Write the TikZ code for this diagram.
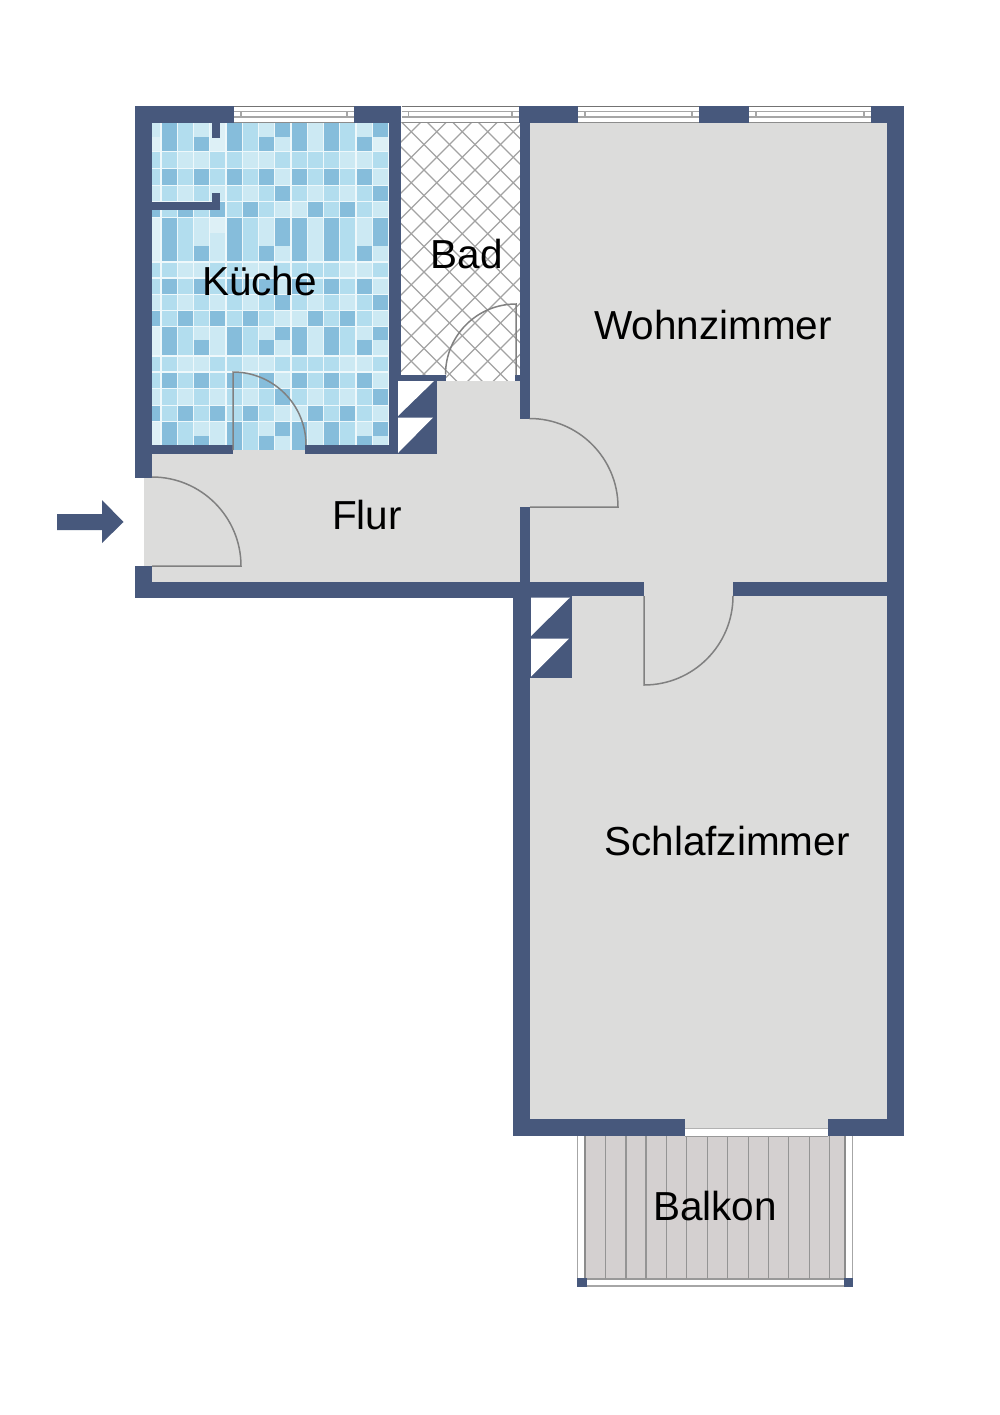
\documentclass[tikz,border=0pt]{standalone}
\usepackage{fontspec}
\setmainfont{Liberation Sans}
\definecolor{wallblue}{HTML}{47587C}
\definecolor{floorgrey}{HTML}{DCDCDB}
\definecolor{deckgrey}{HTML}{D4D0D0}
\definecolor{tilegrout}{HTML}{EEF8FB}
\definecolor{tile0}{HTML}{DDF0F6}
\definecolor{tile1}{HTML}{CCE9F3}
\definecolor{tile2}{HTML}{B2DDEE}
\definecolor{tile3}{HTML}{86BDDB}
\tikzset{
  wall/.style={fill=wallblue, draw=none},
  floorpart/.style={fill=floorgrey, draw=none},
  doorline/.style={draw=black!50, line width=1.5pt},
  roomlabel/.style={font=\fontsize{40.5}{40.5}\selectfont, text=black, inner sep=0pt}
}
\def\windowpane(#1:#2){
  \fill[white] (#1, 106) rectangle (#2, 123);
  \draw[black!55, line width=1.4pt] (#1, 106.7) -- (#2, 106.7);
  \draw[black!45, line width=1.4pt] (#1, 122.3) -- (#2, 122.3);
  \draw[black!35, line width=1.2pt] (#1, 111.5) -- (#2, 111.5);
  \draw[black!35, line width=1.2pt] (#1, 117) -- (#2, 117);
  \draw[black!35, line width=1.2pt] (#1+7, 111.5) -- (#1+7, 117);
  \draw[black!35, line width=1.2pt] (#2-7, 111.5) -- (#2-7, 117);
}
\begin{document}
\begin{tikzpicture}[x=1pt, y=-1pt]
	%%%%% START %%%%%
	\useasboundingbox (0, 0) rectangle (1000, 1415);
	\fill[white] (0, 0) rectangle (1000, 1415);

	% floors
	\fill[floorpart] (144, 454) rectangle (520, 582);
	\fill[floorpart] (437, 380) rectangle (530, 560);
	\fill[floorpart] (530, 123) rectangle (887, 1119);
	\fill[floorpart] (685, 1119) rectangle (828, 1128);
	\fill[floorpart] (233, 449) rectangle (305, 454);

	% kitchen tiles
	\fill[tilegrout] (152, 123) rectangle (389, 449.5);
	\begin{scope}
		\clip (152, 123) rectangle (389, 449.5);
		\foreach \ya/\yb/\rowtiles in {
			123/137/{1,3,2,1,0,3,2,1,3,3,1,3,2,1,3},
			137/151.5/{0,3,2,3,0,3,2,3,1,3,1,3,2,3,0},
			152.5/168/{2,2,1,1,2,2,1,1,2,2,2,2,1,1,2},
			169/185/{2,3,2,3,2,3,2,3,1,3,2,3,2,3,1},
			186/201/{1,2,1,2,1,2,1,2,3,2,1,2,1,2,3},
			202/217/{3,2,3,2,3,2,3,2,1,1,3,2,3,2,1},
			218/233/{0,3,2,1,0,3,2,1,3,3,1,3,2,1,3},
			233/246/{0,3,2,1,1,3,2,1,3,3,1,3,2,1,3},
			246/261/{0,3,2,3,1,3,2,3,1,3,1,3,2,3,1},
			262.5/277/{2,2,1,1,2,2,1,1,2,2,2,2,1,1,2},
			278.5/293.5/{2,3,2,3,2,3,2,3,1,3,2,3,2,3,1},
			294.5/309.5/{1,2,1,2,1,2,1,2,3,2,1,2,1,2,3},
			310.5/326/{3,2,3,2,3,2,3,2,1,1,3,2,3,2,1},
			327/340/{0,3,2,1,1,3,2,1,3,3,1,3,2,1,3},
			340/355/{0,3,2,3,1,3,2,3,1,3,1,3,2,3,1},
			356.5/371/{2,2,1,1,2,2,1,1,2,2,2,2,1,1,2},
			372.5/387.5/{2,3,2,3,2,3,2,3,1,3,2,3,2,3,1},
			388.5/404.5/{1,2,1,2,1,2,1,2,3,2,1,2,1,2,3},
			405.5/420.5/{3,2,3,2,3,2,3,2,1,1,3,2,3,2,1},
			421.5/436/{0,3,2,1,1,3,2,1,3,3,1,3,2,1,3},
			436/450/{0,3,2,3,1,3,2,3,1,3,1,3,2,3,1}}
		{
			\foreach \t [count=\c from 0] in \rowtiles
				\fill[tile\t] (145.45+16.25*\c, \ya) rectangle (160.45+16.25*\c, \yb);
		}
	\end{scope}

	% bath tiles
	\fill[white] (401, 123) rectangle (520, 380.5);
	\begin{scope}
		\clip (401, 123) rectangle (520, 380.5);
		\foreach \k in {-15,...,15} {
			\draw[black!36, line width=1.1pt] (300, 294+25.5*\k) -- (700, -106+25.5*\k);
			\draw[black!36, line width=1.1pt] (300, 46-25.5*\k) -- (700, 446-25.5*\k);
		}
	\end{scope}

	% balcony
	\fill[white] (577, 1136) rectangle (853, 1287);
	\draw[black!35, line width=1.2pt] (577.6, 1136) -- (577.6, 1280);
	\draw[black!35, line width=1.2pt] (852.8, 1136) -- (852.8, 1280);
	\fill[deckgrey] (585, 1136) rectangle (845, 1279);
	\draw[black!45, line width=1.3pt] (585, 1136) -- (585, 1279);
	\draw[black!45, line width=1.3pt] (845, 1136) -- (845, 1279);
	\draw[black!40, line width=1.5pt] (585, 1279) -- (845, 1279);
	\foreach \xp in {605.7,626,646,666.7,686.7,707.3,727.7,748.3,768.3,788.7,809.3,829.7}
		\draw[black!42, line width=1.2pt] (\xp, 1136) -- (\xp, 1279);
	\draw[black!35, line width=1.8pt] (587, 1286.2) -- (844, 1286.2);
	\fill[wall] (577, 1278) rectangle (587, 1287);
	\fill[wall] (844, 1278) rectangle (853, 1287);

	% balcony door
	\fill[white] (685, 1128) rectangle (828, 1136);
	\draw[black!30, line width=1pt] (685, 1128.5) -- (828, 1128.5);
	\draw[black!40, line width=1pt] (685, 1136) -- (828, 1136);

	% outer walls
	\fill[wall] (135, 106) rectangle (234, 123);
	\fill[wall] (354, 106) rectangle (401, 123);
	\fill[wall] (519, 106) rectangle (578, 123);
	\fill[wall] (699, 106) rectangle (749, 123);
	\fill[wall] (871, 106) rectangle (904, 123);
	\fill[wall] (135, 106) rectangle (152, 478);
	\fill[wall] (135, 566) rectangle (152, 598);
	\fill[wall] (135, 582) rectangle (530, 598);
	\fill[wall] (887, 106) rectangle (904, 1136);
	\fill[wall] (513, 582) rectangle (530, 1136);
	\fill[wall] (513, 1119) rectangle (685, 1136);
	\fill[wall] (828, 1119) rectangle (904, 1136);

	% inner walls
	\fill[wall] (520, 582) rectangle (644, 596);
	\fill[wall] (733, 582) rectangle (887, 596);
	\fill[wall] (389, 123) rectangle (401, 454);
	\fill[wall] (152, 445) rectangle (233, 454);
	\fill[wall] (305, 445) rectangle (398, 454);
	\fill[wall] (212, 123) rectangle (220, 138);
	\fill[wall] (212, 193) rectangle (220, 210);
	\fill[wall] (152, 202) rectangle (220, 210);
	\fill[wall] (398, 375) rectangle (446, 381);
	\fill[wall] (515, 375) rectangle (520, 381);
	\fill[wall] (520, 123) rectangle (530, 419);
	\fill[wall] (520, 507) rectangle (530, 590);

	% shafts
	\fill[wall] (398, 379) rectangle (437, 454);
	\fill[white] (398, 381) -- (434, 381) -- (398, 416) -- cycle;
	\fill[white] (398, 417.5) -- (433, 417.5) -- (398, 453) -- cycle;
	\fill[wall] (530, 596) rectangle (572, 678);
	\fill[white] (531, 597.5) -- (570, 597.5) -- (531, 636) -- cycle;
	\fill[white] (531, 638.5) -- (569, 638.5) -- (531, 676.5) -- cycle;

	% windows
	\windowpane(234:354)
	\windowpane(401.5:519)
	\windowpane(578:699)
	\windowpane(749:871)

	% doors
	\draw[doorline] (152, 566) -- (241, 566) arc (0:-90:89);
	\draw[doorline] (233, 450) -- (233, 372) arc (-90:0:73);
	\draw[doorline] (516, 375) -- (516, 304) arc (-90:-180:70.5);
	\draw[doorline] (530, 507) -- (618, 507) arc (0:-90:88.5);
	\draw[doorline] (644, 596) -- (644, 685) arc (90:0:89);

	% entrance arrow
	\fill[wall] (57, 514) -- (102, 514) -- (102, 500) -- (123.5, 522) -- (102, 543) -- (102, 530) -- (57, 530) -- cycle;

	% labels
	\node[roomlabel] (kueche) at (259.5, 281) {Küche};
	\node[roomlabel] (bad) at (466.5, 254) {Bad};
	\node[roomlabel] (wohnzimmer) at (713, 325) {Wohnzimmer};
	\node[roomlabel] (flur) at (367, 515) {Flur};
	\node[roomlabel] (schlafzimmer) at (727, 841) {Schlafzimmer};
	\node[roomlabel] (balkon) at (715, 1206) {Balkon};
	%%%%% END %%%%%
\end{tikzpicture}
\end{document}
